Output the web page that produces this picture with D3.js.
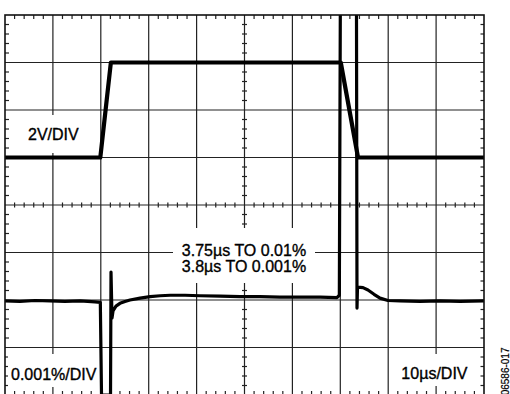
<!DOCTYPE html>
<html>
<head>
<meta charset="utf-8">
<script src="https://cdn.jsdelivr.net/npm/d3@7"></script>
<style>
  body { margin: 0; background: #fff; }
  svg { display: block; font-family: "Liberation Sans", Arial, Helvetica, sans-serif; }
</style>
</head>
<body>
<div id="chart"></div>
<script>
// scope settings: 10 horizontal divisions, 8 vertical
const xDivs = 10, yDivs = 8, minorPerDiv = 5;

// upper trace, 2V/DIV (time in us, volts)
const upperTime = [0, 19.9, 22.1, 70.1, 73.7, 100];
const upperVolts = [0, 0, 4, 4, 0, 0];

// lower trace, 0.001%/DIV (time in us, settling error in %)
const lowerTime = [0, 3.1, 6.3, 9.4, 12.5, 15.7, 18.8, 19.9, 20.15, 22.03, 22.13, 22.34, 22.55, 23.17,
  24.0, 25.05, 26.1, 28.2, 30.3, 32.4, 34.5, 37.6, 40.7, 44.9, 49.1, 53.2, 57.4, 61.6, 65.8, 69.3,
  69.8, 70.0, 73.38, 73.49, 73.59, 74.74, 75.78, 77.04, 78.29, 79.96, 82.46, 86.64, 90.81, 94.99, 100];
const lowerErr = [-0.00002, -0.00003, -0.00001, -0.00002, -0.00003, -0.00002, -0.00004, -0.00005, -0.0025, -0.0025,
  0.00059, -0.00038, -0.00023, -0.00013, -0.00007, -0.00003, 0, 0.00004, 0.00007, 0.00009, 0.0001, 0.0001,
  0.00009, 0.00008, 0.00007, 0.00007, 0.00006, 0.00006, 0.00006, 0.00005, 0.0001, 0.0065, 0.0065, -0.00017,
  0.00027, 0.00026, 0.00021, 0.00012, 0.00004, -0.00001, -0.00002, -0.00003, -0.00002, -0.00003, -0.00002];

const width = 510, height = 394;
const box = { left: 5, right: 484, top: 15, bottom: 395 };

const svg = d3.select('#chart').append('svg')
  .attr('width', width).attr('height', height);

// clamped: off-screen excursions stop at the graticule edge
const x = d3.scaleLinear().domain([0, 100]).range([box.left, box.right]);
const yUpper = d3.scaleLinear().domain([-10, 6]).range([box.bottom, box.top]).clamp(true);
const yLower = d3.scaleLinear().domain([-0.002, 0.006]).range([box.bottom, box.top]).clamp(true);
const gx = d3.scaleLinear().domain([0, xDivs]).range([box.left, box.right]);
const gy = d3.scaleLinear().domain([0, yDivs]).range([box.top, box.bottom]);

// grid
const grid = svg.append('g').attr('stroke', '#222').attr('stroke-width', 1.2);
grid.selectAll('.vline').data(d3.range(1, xDivs)).enter().append('line')
  .attr('x1', d => gx(d)).attr('x2', d => gx(d))
  .attr('y1', box.top).attr('y2', box.bottom);
grid.selectAll('.hline').data(d3.range(1, yDivs)).enter().append('line')
  .attr('x1', box.left).attr('x2', box.right)
  .attr('y1', d => gy(d)).attr('y2', d => gy(d));

// minor ticks
let xMinor = d3.range(0, xDivs * minorPerDiv + 1).filter(i => i % minorPerDiv).map(i => i / minorPerDiv);
let yMinor = d3.range(0, yDivs * minorPerDiv + 1).filter(i => i % minorPerDiv).map(i => i / minorPerDiv);
const ticks = svg.append('g').attr('stroke', '#222').attr('stroke-width', 1.2);
// top and bottom border
ticks.selectAll('.t-top').data(xMinor).enter().append('line')
  .attr('x1', d => gx(d)).attr('x2', d => gx(d)).attr('y1', box.top).attr('y2', box.top + 4);
ticks.selectAll('.t-bot').data(xMinor).enter().append('line')
  .attr('x1', d => gx(d)).attr('x2', d => gx(d)).attr('y1', box.bottom).attr('y2', box.bottom - 4);
// centre horizontal
ticks.selectAll('.t-ch').data(xMinor).enter().append('line')
  .attr('x1', d => gx(d)).attr('x2', d => gx(d))
  .attr('y1', gy(yDivs / 2) - 2.5).attr('y2', gy(yDivs / 2) + 2.5);
// left and right border
ticks.selectAll('.t-left').data(yMinor).enter().append('line')
  .attr('y1', d => gy(d)).attr('y2', d => gy(d)).attr('x1', box.left).attr('x2', box.left + 4);
ticks.selectAll('.t-right').data(yMinor).enter().append('line')
  .attr('y1', d => gy(d)).attr('y2', d => gy(d)).attr('x1', box.right).attr('x2', box.right - 3.5);
// centre vertical
ticks.selectAll('.t-cv').data(yMinor).enter().append('line')
  .attr('y1', d => gy(d)).attr('y2', d => gy(d))
  .attr('x1', gx(xDivs / 2) - 2.5).attr('x2', gx(xDivs / 2) + 2.5);

// white patches behind the labels
const patches = [
  [20, 115, 78, 38],
  [8, 354, 91, 33],
  [398, 354, 74, 32],
  [173, 228, 142, 55]
];
svg.append('g').selectAll('rect').data(patches).enter().append('rect')
  .attr('x', d => d[0]).attr('y', d => d[1])
  .attr('width', d => d[2]).attr('height', d => d[3])
  .attr('fill', '#fff');

// split the lower trace where it runs off the top of the screen
const offTop = d => d[1] > yLower.domain()[1];
let lowerPts = d3.zip(lowerTime, lowerErr);
let runs = [[]];
lowerPts.forEach((p, i) => {
  let prev = lowerPts[i - 1];
  if (prev && offTop(prev) && offTop(p)) runs.push([]);
  runs[runs.length - 1].push(p);
});

const traces = svg.append('g').attr('fill', 'none').attr('stroke', '#000');
let upperLine = d3.line().x(d => x(d[0])).y(d => yUpper(d[1]));
let lowerLine = d3.line().x(d => x(d[0])).y(d => yLower(d[1]));

traces.append('path')
  .datum(d3.zip(upperTime, upperVolts))
  .attr('d', upperLine)
  .attr('stroke-width', 4.2).attr('stroke-linejoin', 'round');

traces.selectAll('.lower').data(runs).enter().append('path')
  .attr('class', 'lower')
  .attr('d', lowerLine)
  .attr('stroke-width', 3.2).attr('stroke-linejoin', 'round');

// outer frame
svg.append('rect')
  .attr('x', box.left).attr('y', box.top)
  .attr('width', box.right - box.left).attr('height', box.bottom - box.top)
  .attr('fill', 'none').attr('stroke', '#111').attr('stroke-width', 1.6);

// labels
const labels = svg.append('g').attr('font-size', 16).attr('fill', '#000')
  .attr('stroke', '#000').attr('stroke-width', 0.35);
labels.append('text').attr('x', 28).attr('y', 139.5).text('2V/DIV');
labels.append('text').attr('x', 11).attr('y', 379.5).text('0.001%/DIV');
labels.append('text').attr('x', 467.5).attr('y', 378.5).attr('text-anchor', 'end').text('10µs/DIV');
labels.append('text').attr('x', 244).attr('y', 256).attr('text-anchor', 'middle').text('3.75µs TO 0.01%');
labels.append('text').attr('x', 244).attr('y', 271.7).attr('text-anchor', 'middle').text('3.8µs TO 0.001%');

svg.append('text')
  .attr('transform', 'translate(508.5,347.5) rotate(-90)')
  .attr('text-anchor', 'end')
  .attr('font-size', 10)
  .attr('stroke', '#000').attr('stroke-width', 0.2)
  .text('06586-017');
</script>
</body>
</html>
